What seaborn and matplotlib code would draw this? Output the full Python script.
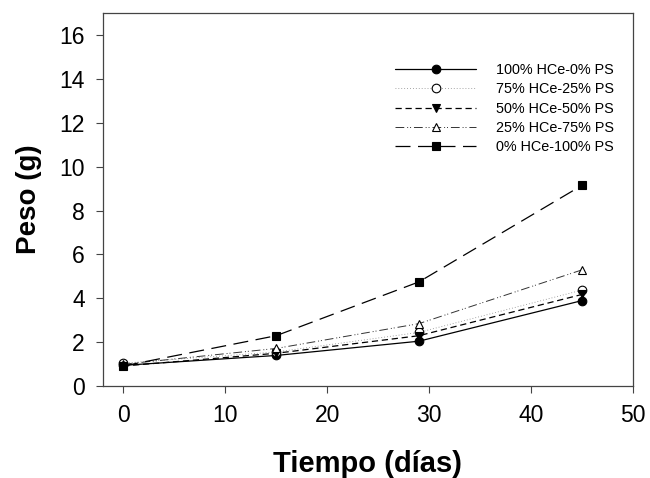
import matplotlib
matplotlib.use("Agg")
import matplotlib.pyplot as plt
import seaborn as sns
import pandas as pd
from matplotlib.lines import Line2D

sns.set_theme(style="ticks")
plt.rcParams['font.family'] = ['Liberation Sans', 'DejaVu Sans']
plt.rcParams['text.color'] = 'black'
plt.rcParams['axes.labelcolor'] = 'black'
plt.rcParams['xtick.labelcolor'] = 'black'
plt.rcParams['ytick.labelcolor'] = 'black'

dias = [0, 15, 29, 45]
series_names = ["100% HCe-0% PS", "75% HCe-25% PS", "50% HCe-50% PS",
                "25% HCe-75% PS", "0% HCe-100% PS"]
s100 = [0.95, 1.40, 2.05, 3.90]
s75 = [1.05, 1.56, 2.45, 4.38]
s50 = [0.92, 1.50, 2.30, 4.18]
s25 = [1.00, 1.72, 2.85, 5.30]
s0 = [0.92, 2.30, 4.75, 9.15]
values = [s100, s75, s50, s25, s0]

styles = [
    dict(linestyle='-', marker='o', mfc='black', color='black', lw=0.9),
    dict(linestyle=(0, (1, 2.5)), marker='o', mfc='white', color='#888888', lw=0.6),
    dict(linestyle=(0, (5, 3)), marker='v', mfc='black', color='black', lw=0.9),
    dict(linestyle=(0, (9, 3, 1, 2, 1, 3)), marker='^', mfc='white', color='#333333', lw=0.7),
    dict(linestyle=(0, (12, 6)), marker='s', mfc='black', color='black', lw=0.9),
]

fig = plt.figure(figsize=(6.5, 4.78), dpi=100)
ax = fig.add_axes([0.158, 0.192, 0.816, 0.781])

handles = []
for name, vals, st in zip(series_names, values, styles):
    df = pd.DataFrame({"dias": dias, "peso": vals})
    sns.lineplot(data=df, x="dias", y="peso", ax=ax, color=st['color'],
                 linestyle=st['linestyle'], linewidth=st['lw'],
                 marker=st['marker'], markersize=6.2,
                 markerfacecolor=st['mfc'], markeredgecolor='black',
                 markeredgewidth=0.8)
    handles.append(Line2D([], [], color=st['color'], linestyle=st['linestyle'],
                          linewidth=st['lw'], marker=st['marker'], markersize=6.2,
                          markerfacecolor=st['mfc'], markeredgecolor='black',
                          markeredgewidth=0.8))

ax.set_xlim(-2, 50)
ax.set_ylim(0, 17)
ax.set_xticks([0, 10, 20, 30, 40, 50])
ax.set_yticks([0, 2, 4, 6, 8, 10, 12, 14, 16])
ax.tick_params(axis='both', labelsize=16.5, direction='out', length=5,
               width=0.8, color='#444444', pad=8, labelcolor='black')
for sp in ax.spines.values():
    sp.set_color('#444444')
    sp.set_linewidth(0.9)
    sp.set_visible(True)

ax.set_xlabel("Tiempo (días)", fontsize=21, fontweight='bold', labelpad=16,
              color='black')
ax.set_ylabel("Peso (g)", fontsize=20, fontweight='bold', labelpad=12,
              color='black')

leg = ax.legend(handles, series_names, loc='upper left',
                bbox_to_anchor=(0.527, 0.90), frameon=False, fontsize=10.4,
                handlelength=5.6, handletextpad=1.35, labelspacing=0.36)
for t in leg.get_texts():
    t.set_color('black')

fig.savefig("out.png", dpi=100)
